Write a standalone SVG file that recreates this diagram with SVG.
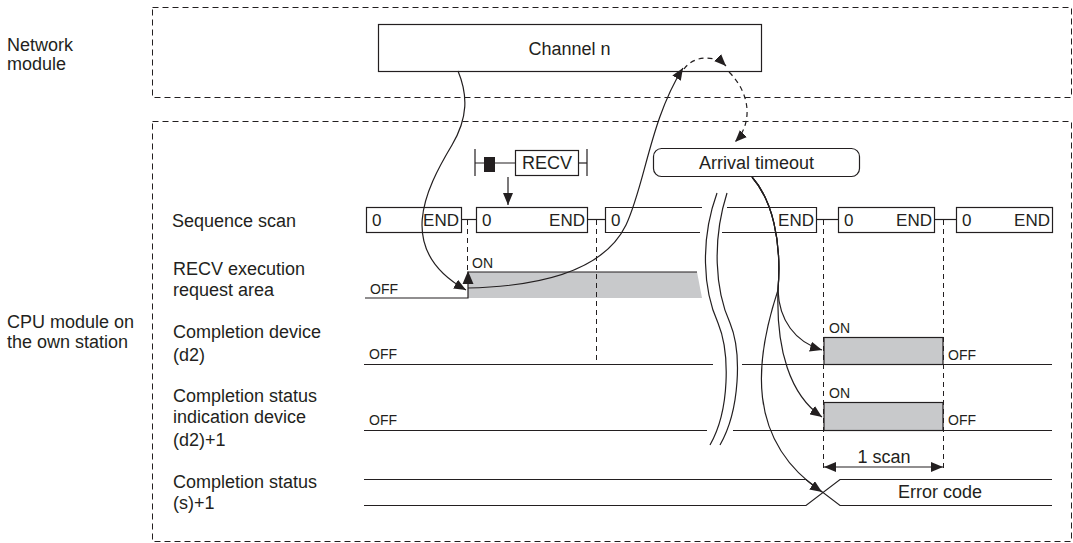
<svg xmlns="http://www.w3.org/2000/svg" width="1073" height="543" viewBox="0 0 1073 543">
<defs>
<style>
text{font-family:"Liberation Sans",Arial,sans-serif;fill:#231f20}
.lbl{font-size:18px}
.sm{font-size:14px}
.sq{font-size:17px}
.ln{fill:none;stroke:#231f20;stroke-width:1.2}
.frame{fill:none;stroke:#231f20;stroke-width:1;stroke-dasharray:6 4}
.vd{fill:none;stroke:#231f20;stroke-width:1;stroke-dasharray:5 4}
.box{fill:#fff;stroke:#231f20;stroke-width:1.2}
.pulse{fill:#c8c9cb;stroke:#231f20;stroke-width:1.2}
.gray{fill:#c8c9cb}
.conn{fill:none;stroke:#231f20;stroke-width:1.2}
.dconn{fill:none;stroke:#231f20;stroke-width:1.2;stroke-dasharray:5 4}
.brk{fill:none;stroke:#231f20;stroke-width:1.2}
</style>
<marker id="ah" viewBox="0 0 12 10" refX="12" refY="5" markerWidth="12" markerHeight="10" orient="auto-start-reverse" markerUnits="userSpaceOnUse">
<path d="M0,0 L12,5 L0,10 z" fill="#231f20"/>
</marker>
</defs>
<rect width="1073" height="543" fill="#fff"/>

<g id="network-module">
<rect class="frame" x="152.5" y="7.5" width="919" height="90"/>
<text class="lbl" x="7" y="51">Network</text>
<text class="lbl" x="7" y="70">module</text>
</g>

<g id="cpu-module">
<rect class="frame" x="152.5" y="121.5" width="919" height="420"/>
<text class="lbl" x="7" y="328">CPU module on</text>
<text class="lbl" x="7" y="348">the own station</text>
</g>

<g id="channel-n">
<rect class="box" x="378.5" y="24.5" width="383" height="47"/>
<text class="lbl" x="569.5" y="55" text-anchor="middle">Channel n</text>
</g>

<g id="recv-instruction">
<line class="ln" x1="475" y1="149" x2="475" y2="176"/>
<line class="ln" x1="475" y1="163" x2="515" y2="163"/>
<rect x="484" y="157" width="11" height="15" fill="#231f20"/>
<rect class="box" x="515.5" y="150.5" width="63" height="25"/>
<text class="lbl" x="547" y="169" text-anchor="middle">RECV</text>
<line class="ln" x1="578.5" y1="163" x2="587" y2="163"/>
<line class="ln" x1="587" y1="149" x2="587" y2="176"/>
<line class="ln" x1="508" y1="177" x2="508" y2="205" marker-end="url(#ah)"/>
</g>

<g id="arrival-timeout">
<rect class="box" x="653.5" y="148.5" width="206" height="28" rx="8"/>
<text class="lbl" x="756.5" y="169" text-anchor="middle">Arrival timeout</text>
</g>

<g id="sequence-scan">
<text class="lbl" x="172" y="227">Sequence scan</text>
<rect class="box" x="366.5" y="207.5" width="95" height="25"/>
<text class="sq" x="372" y="226">0</text>
<text class="sq" x="459" y="226" text-anchor="end">END</text>
<line class="ln" x1="462" y1="219.5" x2="476" y2="219.5"/>
<rect class="box" x="476.5" y="207.5" width="111" height="25"/>
<text class="sq" x="482" y="226">0</text>
<text class="sq" x="585" y="226" text-anchor="end">END</text>
<line class="ln" x1="588" y1="219.5" x2="605" y2="219.5"/>
<path class="ln" d="M702,207.5 H605.5 V232.5 H700"/>
<path class="ln" d="M727,207.5 H816.5 V232.5 H722"/>
<text class="sq" x="611" y="226">0</text>
<text class="sq" x="814" y="226" text-anchor="end">END</text>
<line class="ln" x1="816" y1="219.5" x2="838" y2="219.5"/>
<rect class="box" x="838.5" y="207.5" width="96" height="25"/>
<text class="sq" x="844" y="226">0</text>
<text class="sq" x="932" y="226" text-anchor="end">END</text>
<line class="ln" x1="934" y1="219.5" x2="956" y2="219.5"/>
<rect class="box" x="956.5" y="207.5" width="96" height="25"/>
<text class="sq" x="962" y="226">0</text>
<text class="sq" x="1050" y="226" text-anchor="end">END</text>
</g>

<g id="recv-request">
<text class="lbl" x="173" y="275">RECV execution</text>
<text class="lbl" x="173" y="296">request area</text>
<polygon class="gray" points="468,272 697,272 702,298 468,298"/>
<path class="ln" d="M365,298 H468 V272 H697"/>
<text class="sm" x="370" y="294">OFF</text>
<text class="sm" x="472" y="268">ON</text>
<polygon points="468,271 462.5,284 473.5,284" fill="#231f20"/>
</g>

<g id="completion-device">
<text class="lbl" x="173" y="338">Completion device</text>
<text class="lbl" x="173" y="361">(d2)</text>
<path class="ln" d="M364,364.5 H713 M742,364.5 H824"/>
<rect class="pulse" x="824" y="337.5" width="119" height="27"/>
<path class="ln" d="M943,364.5 H1052"/>
<text class="sm" x="369" y="359">OFF</text>
<text class="sm" x="829" y="333">ON</text>
<text class="sm" x="948" y="360">OFF</text>
</g>

<g id="completion-status-indication">
<text class="lbl" x="173" y="402">Completion status</text>
<text class="lbl" x="173" y="423">indication device</text>
<text class="lbl" x="173" y="446">(d2)+1</text>
<path class="ln" d="M364,430.5 H707 M733,430.5 H824"/>
<rect class="pulse" x="824" y="402.5" width="119" height="28"/>
<path class="ln" d="M943,430.5 H1052"/>
<text class="sm" x="369" y="425">OFF</text>
<text class="sm" x="829" y="398">ON</text>
<text class="sm" x="948" y="425">OFF</text>
</g>

<g id="completion-status">
<text class="lbl" x="173" y="488">Completion status</text>
<text class="lbl" x="173" y="509">(s)+1</text>
<path class="ln" d="M364,479.5 H806 L840,505.5 H1052"/>
<path class="ln" d="M364,505.5 H806 L840,479.5 H1052"/>
<text class="lbl" x="940" y="498" text-anchor="middle">Error code</text>
</g>

<g id="scan-dimension">
<line class="ln" x1="824" y1="467" x2="943" y2="467" marker-start="url(#ah)" marker-end="url(#ah)"/>
<text class="lbl" x="884" y="463" text-anchor="middle">1 scan</text>
</g>

<g id="time-break">
<path class="brk" d="M717,193 C700,240 703,290 718,323 C730,352 730,410 710,445"/>
<path class="brk" d="M727,193 C712,240 715,290 730,323 C742,352 740,410 720,445"/>
</g>

<g id="guides">
<line class="vd" x1="467.5" y1="220" x2="467.5" y2="272"/>
<line class="vd" x1="596.5" y1="220" x2="596.5" y2="364"/>
<line class="vd" x1="823.5" y1="220" x2="823.5" y2="472"/>
<line class="vd" x1="943.5" y1="220" x2="943.5" y2="472"/>
</g>

<g id="connectors">
<path class="conn" d="M458,71 C468,95 468,118 452,145 C425,190 395,250 466,290" marker-end="url(#ah)"/>
<path class="conn" d="M468,288 C560,286 608,262 626,225 C645,185 650,120 683,68" marker-end="url(#ah)"/>
<path class="dconn" d="M684,69 C693,56 714,54 726,66" marker-end="url(#ah)"/>
<path class="dconn" d="M729,72 C752,95 752,125 735,142" marker-end="url(#ah)"/>
<path class="conn" d="M752,177 C772,200 782,240 778,290 C779,320 795,342 822,350" marker-end="url(#ah)"/>
<path class="conn" d="M752,177 C772,200 782,240 778,290 C776,350 790,395 822,417" marker-end="url(#ah)"/>
<path class="conn" d="M752,177 C772,200 782,240 778,290 C755,360 745,440 822,492" marker-end="url(#ah)"/>
</g>
</svg>
